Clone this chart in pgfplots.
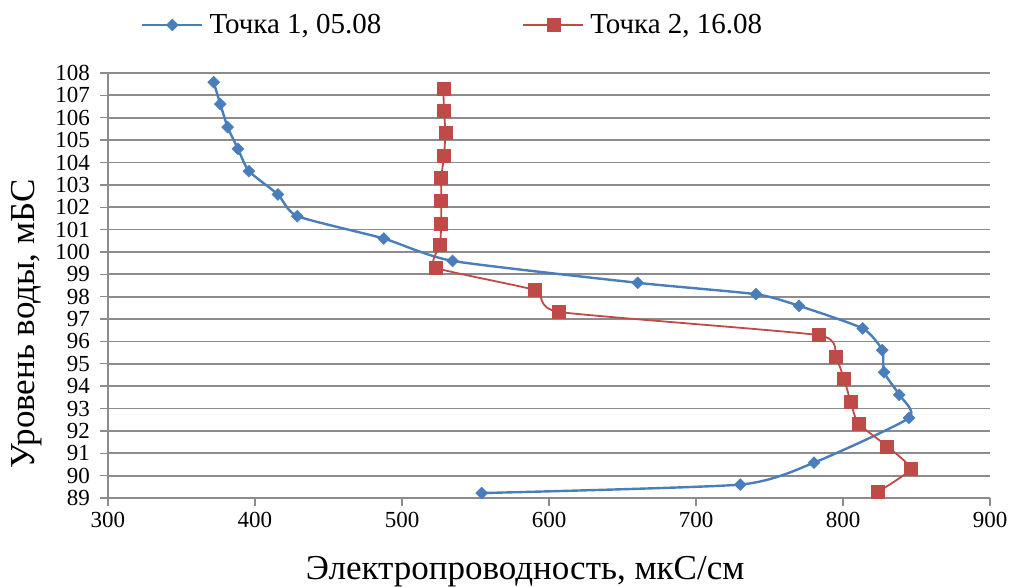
\documentclass[border=0pt]{standalone}
\usepackage{fontspec}
\setmainfont{Liberation Serif}
\usepackage{pgfplots}
\pgfplotsset{compat=1.18}
\definecolor{blueS}{HTML}{4A7EBB}
\definecolor{redS}{HTML}{BE4B48}
\definecolor{gridc}{HTML}{8C8C8C}
\begin{document}
\begin{tikzpicture}
\path[use as bounding box] (-108pt,-88pt) rectangle (906pt,498pt);
\begin{axis}[
  scale only axis, width=882pt, height=425pt,
  xmin=300, xmax=900, ymin=89, ymax=108,
  xtick={300,400,...,900}, ytick={89,...,108},
  axis lines=left, axis line style={-, gridc, line width=1.6pt},
  tick align=outside, major tick length=8pt,
  tick style={gridc, line width=1.4pt},
  ymajorgrids, grid style={gridc, line width=1.8pt},
  /pgf/number format/assume math mode=true,
  tick label style={font=\fontsize{23}{23}\selectfont},
  yticklabel style={inner sep=1pt, xshift=-9pt},
  xticklabel style={yshift=-3pt},
  xlabel={Электропроводность, мкС/см},
  ylabel={Уровень воды, мБС},
  label style={font=\fontsize{35}{35}\selectfont},
  xlabel style={at={(axis description cs:0.473,0)}, anchor=center, yshift=-74pt},
  ylabel style={at={(axis description cs:-0.092,0.41)}, anchor=center},
  legend style={at={(0.034,1.113)}, anchor=west, draw=none, fill=none,
    font=\fontsize{29}{29}\selectfont, legend columns=2,
    /tikz/every even column/.append style={column sep=135pt},
    nodes={inner xsep=6pt}},
  legend image code/.code={\draw[mark repeat=2,mark phase=2,#1] plot coordinates {(0pt,0pt) (30pt,0pt) (60pt,0pt)};},
]
\addplot[blueS, line width=2.4pt, smooth, tension=0.35, mark=square*, mark size=4.2pt,
  mark options={rotate=45, fill=blueS, draw=blueS, line width=0.5pt}] coordinates {
(371.9,107.59) (376.4,106.61) (381.4,105.58) (388.4,104.61) (395.9,103.61)
(415.6,102.57) (428.8,101.60) (487.6,100.60) (534.4,99.60) (660.3,98.62)
(740.8,98.11) (770.1,97.59) (813.4,96.58) (826.7,95.61) (827.9,94.62)
(838.3,93.61) (844.9,92.58) (780.3,90.58) (730.1,89.60) (554.2,89.22)
};
\addlegendentry{Точка 1, 05.08}
\addplot[redS, line width=1.8pt, smooth, tension=0.3, mark=square*, mark size=6.5pt,
  mark options={fill=redS, draw=redS, line width=0.5pt}] coordinates {
(528.1,107.31) (528.6,106.31) (529.5,105.32) (528.6,104.30) (526.7,103.31)
(526.7,102.31) (526.7,101.27) (525.9,100.33) (522.9,99.30) (590.5,98.29)
(606.8,97.32) (783.2,96.28) (795.0,95.31) (800.7,94.34) (805.2,93.29)
(810.4,92.33) (830.1,91.31) (846.0,90.30) (823.6,89.27)
};
\addlegendentry{Точка 2, 16.08}
\end{axis}
\end{tikzpicture}
\end{document}
